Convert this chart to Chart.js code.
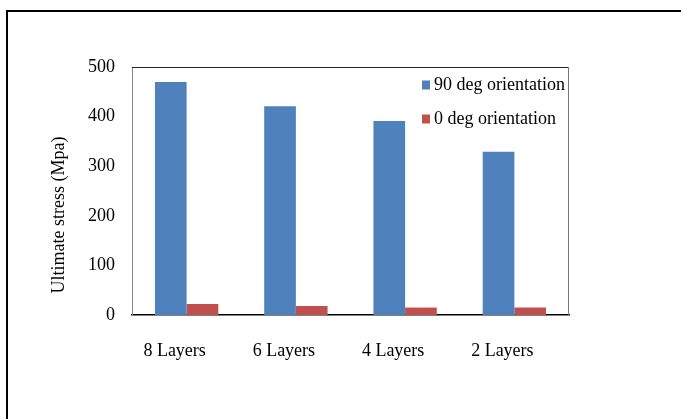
<!DOCTYPE html>
<html>
<head>
<meta charset="utf-8">
<script src="https://cdn.jsdelivr.net/npm/chart.js@4/dist/chart.umd.min.js"></script>
<style>
  html, body { margin: 0; padding: 0; background: #fff; }
  #wrap { width: 683px; height: 419px; position: relative; }
</style>
</head>
<body>
<div id="wrap"><canvas id="c" width="683" height="419"></canvas></div>
<script>
// Layer counts tested
const categories = ['8 Layers', '6 Layers', '4 Layers', '2 Layers'];
// Ultimate stress (MPa) per fibre orientation
const deg90Values = [470, 421, 391, 329];
const deg0Values = [22, 18, 15, 15];
const seriesNames = ['90 deg orientation', '0 deg orientation'];
const yTicks = [0, 100, 200, 300, 400, 500];
const yTitle = 'Ultimate stress (Mpa)';

const FONT = '"Liberation Serif", "Times New Roman", serif';
const BLUE = '#4F81BD';
const RED = '#C0504D';

// Outer frame, plot box, rotated axis title and the in-plot legend
const decor = {
  id: 'decor',
  beforeDraw(chart) {
    const ctx = chart.ctx;
    ctx.save();
    ctx.fillStyle = '#fff';
    ctx.fillRect(0, 0, chart.width, chart.height);
    ctx.restore();
  },
  afterDraw(chart) {
    const ctx = chart.ctx;
    const a = chart.chartArea;
    ctx.save();
    // page frame (top + left edges)
    ctx.fillStyle = '#000';
    ctx.fillRect(6, 10, 675, 2);
    ctx.fillRect(6, 10, 2, chart.height - 10);
    // plot box top / right
    ctx.strokeStyle = '#222';
    ctx.lineWidth = 1;
    ctx.beginPath();
    ctx.moveTo(a.left, a.top + 0.5);
    ctx.lineTo(a.right, a.top + 0.5);
    ctx.stroke();
    ctx.strokeStyle = '#777';
    ctx.beginPath();
    ctx.moveTo(a.right - 0.5, a.top);
    ctx.lineTo(a.right - 0.5, a.bottom);
    ctx.stroke();
    // y axis title
    ctx.fillStyle = '#000';
    ctx.font = '18px ' + FONT;
    ctx.textAlign = 'center';
    ctx.textBaseline = 'middle';
    ctx.translate(59, 215);
    ctx.rotate(-Math.PI / 2);
    ctx.fillText(yTitle, 0, 0);
    ctx.restore();
    // legend
    ctx.save();
    ctx.font = '18px ' + FONT;
    ctx.textAlign = 'left';
    ctx.textBaseline = 'middle';
    chart.data.datasets.forEach((ds, i) => {
      const y = 85 + i * 34;
      ctx.fillStyle = ds.backgroundColor;
      ctx.fillRect(422, y - 4.5, 8, 9);
      ctx.fillStyle = '#000';
      ctx.fillText(ds.label, 434, y);
    });
    ctx.restore();
  }
};

new Chart(document.getElementById('c'), {
  type: 'bar',
  data: {
    labels: categories,
    datasets: [
      { label: seriesNames[0], data: deg90Values, backgroundColor: BLUE },
      { label: seriesNames[1], data: deg0Values, backgroundColor: RED }
    ]
  },
  options: {
    responsive: false,
    animation: false,
    devicePixelRatio: 1,
    layout: { padding: { left: 7, top: 67, right: 114, bottom: 44 } },
    datasets: { bar: { categoryPercentage: 0.58, barPercentage: 1.0 } },
    plugins: { legend: { display: false }, tooltip: { enabled: false } },
    scales: {
      x: {
        grid: { display: false, drawTicks: false },
        border: { display: true, color: '#000', width: 1.5 },
        ticks: { color: '#000', font: { family: FONT, size: 18 }, padding: 25, labelOffset: -12, maxRotation: 0 },
        afterFit(s) { s.height = 60; }
      },
      y: {
        min: 0,
        max: 500,
        grid: { display: false, drawTicks: false },
        border: { display: true, color: '#888', width: 1 },
        ticks: {
          color: '#000',
          font: { family: FONT, size: 18 },
          padding: 17,
          stepSize: 100,
          callback: (v) => yTicks.includes(v) ? String(v) : ''
        },
        afterFit(s) { s.width = 125; }
      }
    }
  },
  plugins: [decor]
});
</script>
</body>
</html>
